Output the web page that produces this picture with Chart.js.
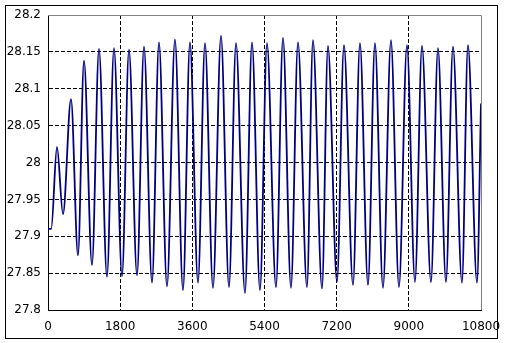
<!DOCTYPE html>
<html>
<head>
<meta charset="utf-8">
<script src="https://cdn.jsdelivr.net/npm/chart.js@4/dist/chart.umd.min.js"></script>
<style>
  html, body { margin: 0; padding: 0; background: #fff; }
  canvas { display: block; }
</style>
</head>
<body>
<canvas id="chart" width="505" height="343"></canvas>
<script>
// time (s) of each turning point
const times = [
    0, 80, 224, 374, 574, 748, 898, 1097, 1272, 1471,
    1646, 1846, 2020, 2220, 2394, 2594, 2768, 2968, 3167, 3367,
    3541, 3741, 3916, 4115, 4315, 4514, 4689, 4913, 5088, 5287,
    5462, 5686, 5861, 6060, 6235, 6459, 6609, 6834, 6983, 7208,
    7382, 7607, 7781, 7981, 8155, 8355, 8554, 8754, 8953, 9153,
    9328, 9552, 9727, 9926, 10101, 10325, 10475, 10700, 10800
];

// value at each turning point
const temps = [
    27.910, 27.910, 28.021, 27.930, 28.086, 27.874, 28.138, 27.861, 28.154, 27.845,
    28.155, 27.846, 28.153, 27.847, 28.157, 27.837, 28.163, 27.832, 28.167, 27.827,
    28.163, 27.837, 28.162, 27.830, 28.172, 27.831, 28.162, 27.823, 28.163, 27.827,
    28.162, 27.831, 28.169, 27.830, 28.163, 27.831, 28.166, 27.829, 28.158, 27.838,
    28.159, 27.834, 28.162, 27.834, 28.162, 27.830, 28.166, 27.831, 28.159, 27.838,
    28.158, 27.838, 28.155, 27.838, 28.157, 27.837, 28.159, 27.837, 28.080
];

const xTicks = [0, 1800, 3600, 5400, 7200, 9000, 10800];
const yMin = 27.8, yMax = 28.2, yStep = 0.05;

const FONT = { family: 'DejaVu Sans', size: 12 };

// marco exterior + borde gris del área de trazado
const framePlugin = {
    id: 'frame',
    beforeDraw(chart) {
        const c = chart.ctx;
        c.save();
        c.fillStyle = '#fff';
        c.fillRect(0, 0, chart.width, chart.height);
        c.strokeStyle = '#000';
        c.lineWidth = 1;
        c.strokeRect(5.5, 5.5, chart.width - 13, chart.height - 10);
        c.restore();
    },
    afterDraw(chart) {
        const a = chart.chartArea;
        const c = chart.ctx;
        c.save();
        c.strokeStyle = '#808080';
        c.lineWidth = 1;
        c.beginPath();
        c.moveTo(a.left, a.top + 0.5);
        c.lineTo(a.right + 0.5, a.top + 0.5);
        c.lineTo(a.right + 0.5, a.bottom);
        c.stroke();
        c.restore();
    }
};

const ctx = document.getElementById('chart').getContext('2d');

new Chart(ctx, {
    type: 'line',
    data: {
        datasets: [{
            data: times.map((t, i) => ({ x: t, y: temps[i] })),
            borderColor: '#000080',
            borderWidth: 1.8,
            pointRadius: 0,
            cubicInterpolationMode: 'monotone',
            fill: false
        }]
    },
    options: {
        responsive: false,
        animation: false,
        layout: { padding: { top: 15, right: 24, left: 0, bottom: 0 } },
        plugins: {
            legend: { display: false },
            tooltip: { enabled: false }
        },
        scales: {
            x: {
                type: 'linear',
                min: 0,
                max: 10800,
                afterBuildTicks: scale => { scale.ticks = xTicks.map(v => ({ value: v })); },
                afterFit: scale => {
                    scale.height = 33;
                    scale.paddingLeft = 0;
                    scale.paddingRight = 0;
                },
                grid: {
                    drawTicks: false,
                    color: c => (c.tick && (c.tick.value === 0 || c.tick.value === 10800)) ? 'rgba(0,0,0,0)' : '#000',
                    lineWidth: 1
                },
                border: { display: true, color: '#000', width: 1, dash: [4, 2] },
                ticks: {
                    padding: 10,
                    color: '#000',
                    font: FONT,
                    maxRotation: 0,
                    autoSkip: false,
                    callback: v => String(v)
                }
            },
            y: {
                min: yMin,
                max: yMax,
                afterFit: scale => {
                    scale.width = 48;
                    scale.paddingTop = 0;
                    scale.paddingBottom = 0;
                },
                grid: {
                    drawTicks: false,
                    color: c => {
                        const v = c.tick ? +c.tick.value.toFixed(2) : null;
                        return (v === yMin || v === yMax) ? 'rgba(0,0,0,0)' : '#000';
                    },
                    lineWidth: 1
                },
                border: { display: true, color: '#000', width: 1, dash: [4, 2] },
                ticks: {
                    stepSize: yStep,
                    padding: 7,
                    color: '#000',
                    font: FONT,
                    callback: v => String(+(+v).toFixed(2))
                }
            }
        }
    },
    plugins: [framePlugin]
});
</script>
</body>
</html>
